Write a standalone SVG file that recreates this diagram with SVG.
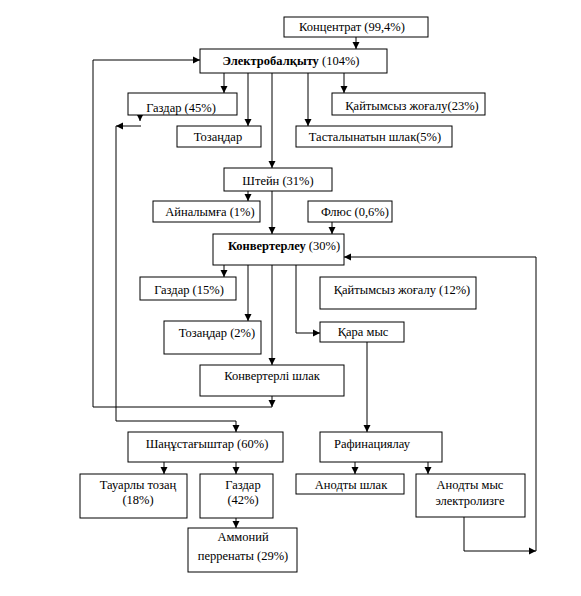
<svg xmlns="http://www.w3.org/2000/svg" width="581" height="596" viewBox="0 0 581 596">
<style>
rect{fill:#fff;stroke:#000;stroke-width:1}
text{font-family:'Liberation Serif','Times New Roman','DejaVu Serif',serif;font-size:12.5px;fill:#000;text-anchor:middle}
.b{font-weight:bold}
.c path{fill:none;stroke:#000;stroke-width:1}
</style>
<defs>
<marker id="a" markerUnits="userSpaceOnUse" markerWidth="8" markerHeight="8" refX="7" refY="4" orient="auto">
<path d="M0,0.5 L7,4 L0,7.5 z" fill="#000"/>
</marker>
</defs>
<rect x="0" y="0" width="581" height="596" style="stroke:none"/>
<g class="c">
<path d="M356,37 V49" marker-end="url(#a)"/>
<path d="M93,407 V60 H200" marker-end="url(#a)"/>
<path d="M224,73 V93" marker-end="url(#a)"/>
<path d="M248,73 V126" marker-end="url(#a)"/>
<path d="M272,73 V168" marker-end="url(#a)"/>
<path d="M308,73 V126" marker-end="url(#a)"/>
<path d="M344,73 V93" marker-end="url(#a)"/>
<path d="M140,115 V121" marker-end="url(#a)"/>
<path d="M141,126 H116" marker-end="url(#a)"/>
<path d="M116,126 V421 H236 V432" marker-end="url(#a)"/>
<path d="M248,191 V201" marker-end="url(#a)"/>
<path d="M272,191 V234" marker-end="url(#a)"/>
<path d="M332,222 V234" marker-end="url(#a)"/>
<path d="M224,265 V277" marker-end="url(#a)"/>
<path d="M248,265 V321" marker-end="url(#a)"/>
<path d="M272,265 V365" marker-end="url(#a)"/>
<path d="M296,265 V333 H320" marker-end="url(#a)"/>
<path d="M272,396 V407" marker-end="url(#a)"/>
<path d="M93,407 H272"/>
<path d="M367,342 V432" marker-end="url(#a)"/>
<path d="M164,462 V474" marker-end="url(#a)"/>
<path d="M236,462 V474" marker-end="url(#a)"/>
<path d="M236,518 V528" marker-end="url(#a)"/>
<path d="M355,462 V474" marker-end="url(#a)"/>
<path d="M428,462 V474" marker-end="url(#a)"/>
<path d="M464,517 V551 H536" marker-end="url(#a)"/>
<path d="M536,551 V257 H344" marker-end="url(#a)"/>
</g>
<g id="n1"><rect x="284" y="17" width="144" height="20"/><text x="352" y="31">Концентрат (99,4%)</text></g>
<g id="n2"><rect x="200" y="49" width="187" height="24"/><text x="291" y="65"><tspan class="b">Электробалқыту</tspan> (104%)</text></g>
<g id="n3"><rect x="128" y="93" width="109" height="22"/><text x="181" y="112">Газдар (45%)</text></g>
<g id="n4"><rect x="177" y="126" width="84" height="21"/><text x="218" y="141">Тозаңдар</text></g>
<g id="n5"><rect x="296" y="126" width="156" height="21"/><text x="375" y="141">Тасталынатын шлак(5%)</text></g>
<g id="n6"><rect x="332" y="93" width="153" height="22"/><text x="412" y="110">Қайтымсыз жоғалу(23%)</text></g>
<g id="n7"><rect x="224" y="168" width="108" height="23"/><text x="278" y="185">Штейн (31%)</text></g>
<g id="n8"><rect x="153" y="201" width="107" height="21"/><text x="210" y="216">Айналымға (1%)</text></g>
<g id="n9"><rect x="308" y="201" width="84" height="21"/><text x="355" y="216">Флюс (0,6%)</text></g>
<g id="n10"><rect x="213" y="234" width="131" height="31"/><text x="284" y="250"><tspan class="b">Конвертерлеу</tspan> (30%)</text></g>
<g id="n11"><rect x="140" y="277" width="96" height="23"/><text x="189" y="294">Газдар (15%)</text></g>
<g id="n12"><rect x="320" y="277" width="156" height="32"/><text x="402" y="294">Қайтымсыз жоғалу (12%)</text></g>
<g id="n13"><rect x="164" y="321" width="97" height="33"/><text x="217" y="337">Тозаңдар (2%)</text></g>
<g id="n14"><rect x="320" y="322" width="84" height="20"/><text x="363" y="336">Қара мыс</text></g>
<g id="n15"><rect x="200" y="365" width="144" height="31"/><text x="272" y="380">Конвертерлі шлак</text></g>
<g id="n16"><rect x="128" y="432" width="155" height="30"/><text x="207" y="448">Шаңұстағыштар (60%)</text></g>
<g id="n17"><rect x="320" y="432" width="122" height="30"/><text x="372" y="448">Рафинациялау</text></g>
<g id="n18"><rect x="80" y="474" width="107" height="44"/><text x="138" y="489">Тауарлы тозаң</text><text x="138" y="504">(18%)</text></g>
<g id="n19"><rect x="200" y="474" width="73" height="44"/><text x="243" y="489">Газдар</text><text x="243" y="504">(42%)</text></g>
<g id="n20"><rect x="188" y="528" width="109" height="44"/><text x="243" y="541">Аммоний</text><text x="243" y="560">перренаты (29%)</text></g>
<g id="n21"><rect x="296" y="474" width="108" height="20"/><text x="351" y="489">Анодты шлак</text></g>
<g id="n22"><rect x="416" y="474" width="109" height="43"/><text x="470" y="489">Анодты мыс</text><text x="470" y="505">электролизге</text></g>
</svg>
